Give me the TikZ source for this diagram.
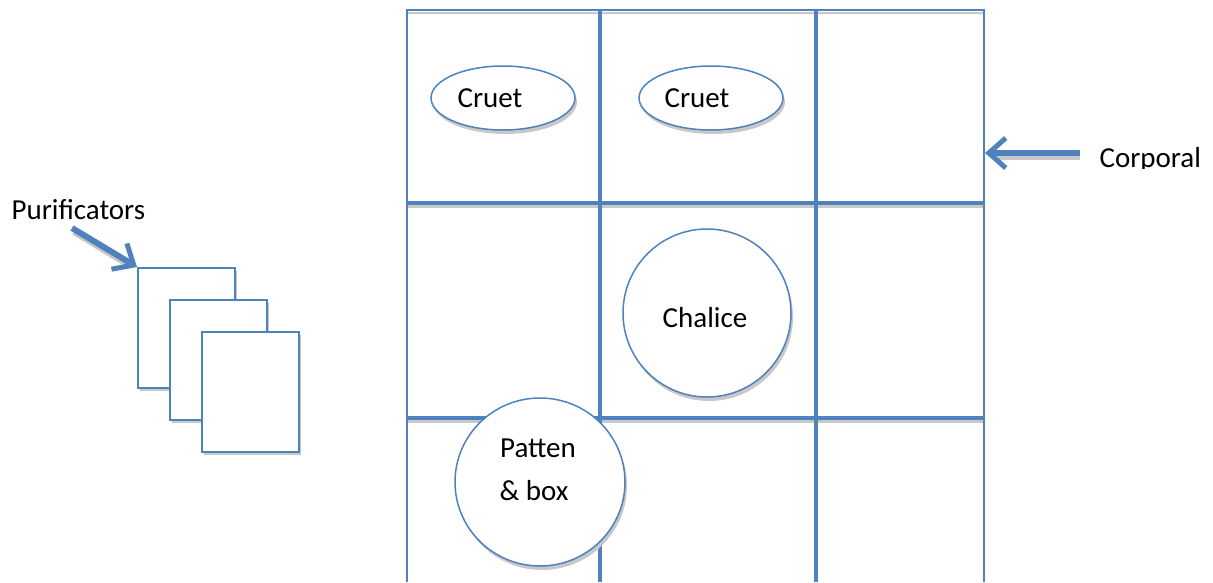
\documentclass[tikz,border=0pt]{standalone}
\usepackage{fontspec}
\setmainfont{Carlito}
\usetikzlibrary{arrows.meta,shapes.geometric}
\definecolor{ablue}{RGB}{79,129,189}
\definecolor{shadowgray}{RGB}{200,200,200}
\tikzset{
  thin line/.style={draw=ablue,line width=2pt},
  thick line/.style={draw=ablue,line width=4.5pt},
  shad/.style={draw=shadowgray,line width=4pt},
  dish/.style={ellipse,draw=ablue,line width=1.5pt,fill=white,inner sep=0pt},
  cloth/.style={rectangle,draw=ablue,line width=1.8pt,fill=white,inner sep=0pt},
  lbl/.style={font=\fontsize{29}{34}\selectfont,text=black},
  pointer/.style={draw=ablue,line width=6pt,-{Straight Barb[length=17pt,width=30pt,line width=5pt]}},
}
\begin{document}
\begin{tikzpicture}[x=1pt,y=-1pt]
\useasboundingbox (0,0) rectangle (1213,582);
% grid shadows
\draw[shad] (407,206) -- (984,206);
\draw[shad] (407,421) -- (984,421);
\draw[draw=shadowgray,line width=2pt] (407,13) -- (984,13);
% grid
\draw[thin line] (407,582) -- (407,10) -- (984,10) -- (984,582);
\draw[thick line] (600,10) -- (600,582);
\draw[thick line] (816,10) -- (816,582);
\draw[thick line] (407,203) -- (984,203);
\draw[thick line] (407,418) -- (984,418);
% cruets
\fill[shadowgray] (505,102) ellipse [x radius=72, y radius=32];
\node[dish,minimum width=144,minimum height=64] (c1) at (503,98) {};
\node[lbl] (c1t) at (490,98) {Cruet};
\fill[shadowgray] (713,102) ellipse [x radius=72, y radius=32];
\node[dish,minimum width=144,minimum height=64] (c2) at (711,98) {};
\node[lbl] (c2t) at (697,98) {Cruet};
% chalice
\fill[shadowgray] (709,317) circle [radius=84];
\node[dish,minimum width=168,minimum height=168] (ch) at (707,313) {};
\node[lbl] (cht) at (705,318) {Chalice};
% patten
\fill[shadowgray] (542,486) ellipse [x radius=85, y radius=84];
\node[dish,minimum width=170,minimum height=168] (pa) at (540,482) {};
\node[lbl] (pat) at (538,448) {Patten};
\node[lbl] (pab) at (534,491) {\& box};
% purificators
\foreach \i/\x/\y in {1/137/267,2/169/299,3/201/331}{
  \fill[shadowgray] (\x+3,\y+4) rectangle (\x+100,\y+124);
  \node[cloth,minimum width=97,minimum height=120,anchor=north west] (p\i) at (\x,\y) {};
}
\node[lbl,anchor=west] (plab) at (8,210) {Purificators};
\coordinate (pstart) at (72,228);
\draw[shad,line width=6pt] (74,232) -- (130,266);
\draw[pointer] (pstart) -- (p1.north west);
% corporal
\begin{scope}
  \clip (1090,140) rectangle (1213,168);
  \node[lbl,anchor=west] (corp) at (1096,160) {Corporal};
\end{scope}
\coordinate (cstart) at (1080,153);
\coordinate (cend) at (985,153);
\draw[shad,line width=6pt] (1080,157) -- (995,157);
\draw[pointer] (cstart) -- (cend);
\end{tikzpicture}
\end{document}
